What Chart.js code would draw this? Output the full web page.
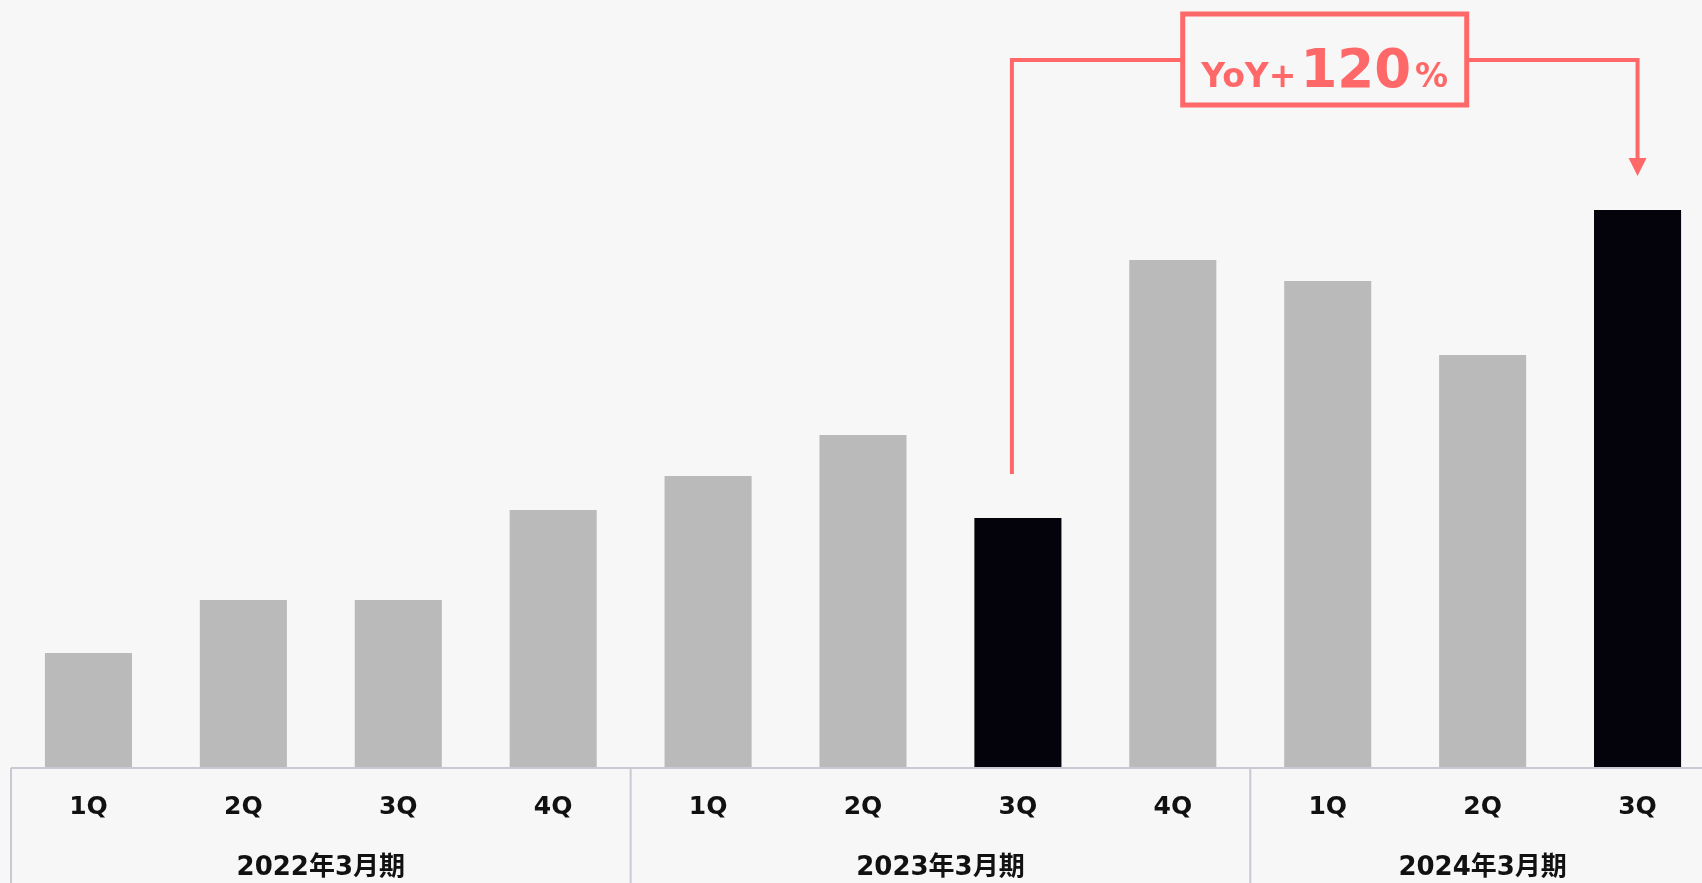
<!DOCTYPE html>
<html>
<head>
<meta charset="utf-8">
<script src="https://cdn.jsdelivr.net/npm/chart.js@4.4.1/dist/chart.umd.min.js"></script>
<style>
  html, body { margin: 0; padding: 0; background: #f7f7f7; overflow: hidden; }
  #wrap { width: 1716px; height: 883px; position: relative; }
</style>
</head>
<body>
<div id="wrap"><canvas id="salesChart"></canvas></div>
<script>
// Quarter labels and fiscal-year groups
const quarters = ['1Q', '2Q', '3Q', '4Q', '1Q', '2Q', '3Q', '4Q', '1Q', '2Q', '3Q'];
const fiscalYears = ['2022年3月期', '2023年3月期', '2024年3月期'];
const groupSizes = [4, 4, 3];

// Bar values (arbitrary units)
const values = [115, 168, 168, 258, 292, 333, 250, 508, 487, 413, 558];
const highlighted = [6, 10]; // 3Q of FY2023 and FY2024

// YoY annotation
const yoyFrom = 6;
const yoyTo = 10;
const yoyPrefix = 'YoY+';
const yoyValue = '120';
const yoySuffix = '%';

const grey = '#bababa';
const dark = '#04020a';
const red = '#ff6868';
const lineColor = '#c8c9d1';
const font = '"DejaVu Sans", "Noto Sans CJK JP", sans-serif';

const barColors = values.map((v, i) => highlighted.includes(i) ? dark : grey);

// Draws axis line, group separators, fiscal-year labels and the YoY callout
const decorations = {
  id: 'decorations',
  afterDraw(chart) {
    const { ctx, chartArea, scales } = chart;
    const x = scales.x;
    const y = scales.y;
    const bottom = chartArea.bottom;
    const h = chart.height;

    ctx.save();
    // baseline
    ctx.strokeStyle = lineColor;
    ctx.lineWidth = 2;
    ctx.beginPath();
    ctx.moveTo(chartArea.left, bottom);
    ctx.lineTo(chartArea.right, bottom);
    ctx.stroke();

    // group separators + year labels
    let start = 0;
    const step = x.getPixelForValue(1) - x.getPixelForValue(0);
    groupSizes.forEach((size, g) => {
      const left = x.getPixelForValue(start) - step / 2;
      const right = x.getPixelForValue(start + size - 1) + step / 2;
      ctx.beginPath();
      ctx.moveTo(left, bottom);
      ctx.lineTo(left, h);
      ctx.stroke();

      ctx.fillStyle = '#111111';
      ctx.font = 'bold 26px ' + font;
      ctx.textAlign = 'center';
      ctx.textBaseline = 'middle';
      ctx.fillText(fiscalYears[g], (left + right) / 2, 868);
      start += size;
    });

    // YoY callout
    const x1 = x.getPixelForValue(yoyFrom) - 6;
    const x2 = x.getPixelForValue(yoyTo);
    const topY = 60;
    const y1 = y.getPixelForValue(values[yoyFrom]) - 44;
    const y2 = y.getPixelForValue(values[yoyTo]) - 34;

    ctx.strokeStyle = red;
    ctx.fillStyle = red;
    ctx.lineWidth = 4;
    ctx.lineJoin = 'miter';
    ctx.beginPath();
    ctx.moveTo(x1, y1);
    ctx.lineTo(x1, topY);
    ctx.lineTo(x2, topY);
    ctx.lineTo(x2, y2 - 16);
    ctx.stroke();
    // arrow head
    ctx.beginPath();
    ctx.moveTo(x2 - 9, y2 - 18);
    ctx.lineTo(x2 + 9, y2 - 18);
    ctx.lineTo(x2, y2);
    ctx.closePath();
    ctx.fill();

    // box
    const cx = (x1 + x2) / 2;
    const bw = 284, bh = 91;
    ctx.fillStyle = '#f7f7f7';
    ctx.fillRect(cx - bw / 2, 14, bw, bh);
    ctx.lineWidth = 5;
    ctx.strokeRect(cx - bw / 2, 14, bw, bh);

    // text
    ctx.fillStyle = red;
    ctx.textBaseline = 'alphabetic';
    ctx.textAlign = 'left';
    const small = 'bold 33px ' + font;
    const big = 'bold 53px ' + font;
    ctx.font = small;
    const w1 = ctx.measureText(yoyPrefix).width;
    const w3 = ctx.measureText(yoySuffix).width;
    ctx.font = big;
    const w2 = ctx.measureText(yoyValue).width;
    const gap = 4;
    let tx = cx - (w1 + w2 + w3 + gap * 2) / 2;
    const base = 87;
    ctx.font = small;
    ctx.fillText(yoyPrefix, tx, base);
    tx += w1 + gap;
    ctx.font = big;
    ctx.fillText(yoyValue, tx, base);
    tx += w2 + gap;
    ctx.font = small;
    ctx.fillText(yoySuffix, tx, base);
    ctx.restore();
  }
};

new Chart(document.getElementById('salesChart'), {
  type: 'bar',
  data: {
    labels: quarters,
    datasets: [{
      data: values,
      backgroundColor: barColors,
      borderWidth: 0,
      categoryPercentage: 1,
      barPercentage: 0.562,
    }],
  },
  options: {
    responsive: true,
    maintainAspectRatio: false,
    animation: false,
    layout: { padding: { left: 11, right: 1, top: 0, bottom: 0 } },
    plugins: {
      legend: { display: false },
      tooltip: { enabled: false },
    },
    scales: {
      x: {
        grid: { display: false, drawTicks: false },
        border: { display: false },
        ticks: {
          color: '#111111',
          font: { family: font, size: 25, weight: 'bold' },
          padding: 24,
          maxRotation: 0,
          autoSkip: false,
        },
        afterFit(scale) { scale.height = 115; },
      },
      y: {
        display: false,
        min: 0,
        max: 768,
      },
    },
  },
  plugins: [decorations],
});
</script>
</body>
</html>
